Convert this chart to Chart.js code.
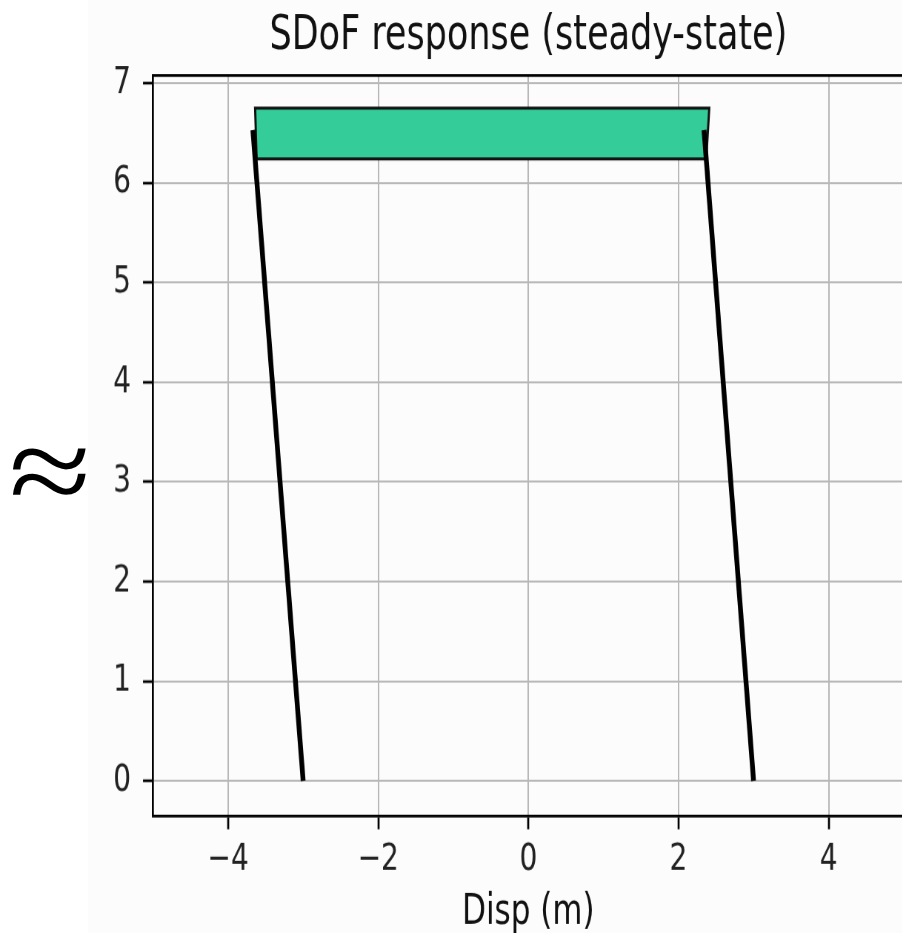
<!DOCTYPE html>
<html>
<head>
<meta charset="utf-8">
<title>SDoF response</title>
<script src="https://cdn.jsdelivr.net/npm/chart.js@4.4.1/dist/chart.umd.min.js"></script>
<style>
    html, body { margin: 0; padding: 0; background: #ffffff; overflow: hidden; width: 902px; height: 933px; }
    #figBg { position: absolute; left: 88px; top: 0; width: 830px; height: 933px; background: #fcfcfc; }
    /* the reference figure is stretched vertically, so the canvas is too */
    #wrap { position: absolute; left: 0; top: 0; width: 906px; height: 691px; transform: scaleY(1.35); transform-origin: 0 0; }
    #approx {
        position: absolute; left: -20px; top: 409px; width: 140px; height: 125px;
        font-family: 'Liberation Serif', serif; font-size: 125px; line-height: 125px;
        text-align: center; color: #000; transform: scaleX(1.2);
    }
</style>
</head>
<body>
<div id="figBg"></div>
<div id="wrap"><canvas id="sdofChart"></canvas></div>
<div id="approx">≈</div>

<script>
// values
const xTicks = [-4, -2, 0, 2, 4];
const yTicks = [0, 1, 2, 3, 4, 5, 6, 7];

// mass block on top
const blockX = [-3.62, -3.64, 2.41, 2.37, -3.62];
const blockY = [6.24, 6.75, 6.75, 6.24, 6.24];

// left / right column
const leftColX = [-3.00, -3.67];
const leftColY = [0, 6.53];
const rightColX = [3.00, 2.34];
const rightColY = [0, 6.53];

const FONT = "'DejaVu Sans', sans-serif";
const GRID = '#b8b8b8';
const STRETCH = 1.35;

const toPoints = (xs, ys) => xs.map((x, i) => ({ x: x, y: ys[i] }));
const minusSign = (v) => String(v).replace('-', '\u2212');

new Chart(document.getElementById('sdofChart').getContext('2d'), {
    type: 'scatter',
    data: {
        datasets: [
            { label: 'left', data: toPoints(leftColX, leftColY), showLine: true, borderColor: '#000', borderWidth: 4.8, pointRadius: 0, fill: false },
            { label: 'right', data: toPoints(rightColX, rightColY), showLine: true, borderColor: '#000', borderWidth: 4.8, pointRadius: 0, fill: false },
            { label: 'mass', data: toPoints(blockX, blockY), showLine: true, borderColor: '#111', borderWidth: 2.2, backgroundColor: '#34cc99', pointRadius: 0, fill: 'shape' },
        ],
    },
    options: {
        responsive: true,
        maintainAspectRatio: false,
        animation: false,
        devicePixelRatio: STRETCH,
        layout: { padding: 0 },
        plugins: {
            legend: { display: false },
            tooltip: { enabled: false },
        },
        scales: {
            x: {
                type: 'linear',
                min: -5,
                max: 5,
                afterFit: (s) => { s.height = 87.3; },
                afterBuildTicks: (s) => { s.ticks = xTicks.map(v => ({ value: v })); },
                ticks: { color: '#222', font: { family: FONT, size: 28 }, padding: 6, maxRotation: 0, callback: (v) => minusSign(v) },
                grid: { color: GRID, lineWidth: 1.5, tickLength: 10, tickColor: '#000', tickWidth: 2 },
                border: { color: '#000', width: 2 },
                title: { display: true, text: 'Disp (m)', color: '#111', font: { family: FONT, size: 31, lineHeight: 1.0 }, padding: { top: 0, bottom: 0 } },
            },
            // top frame line + title, centred over the plot area
            xTop: {
                type: 'linear',
                position: 'top',
                min: -5,
                max: 5,
                afterFit: (s) => { s.height = 55.6; },
                ticks: { display: false },
                grid: { display: false, drawTicks: false },
                border: { color: '#000', width: 2 },
                title: { display: true, text: 'SDoF response (steady-state)', color: '#111', font: { family: FONT, size: 35, lineHeight: 1.2 }, padding: { top: 6, bottom: 0 } },
            },
            y: {
                type: 'linear',
                min: -0.35,
                max: 7.08,
                afterFit: (s) => { s.width = 153; },
                afterBuildTicks: (s) => { s.ticks = yTicks.map(v => ({ value: v })); },
                ticks: { color: '#222', font: { family: FONT, size: 28 }, padding: 12, callback: (v) => minusSign(v) },
                grid: { color: GRID, lineWidth: 1.5, tickLength: 10, tickColor: '#000', tickWidth: 2 },
                border: { color: '#000', width: 2 },
            },
        },
    },
});
</script>
</body>
</html>
